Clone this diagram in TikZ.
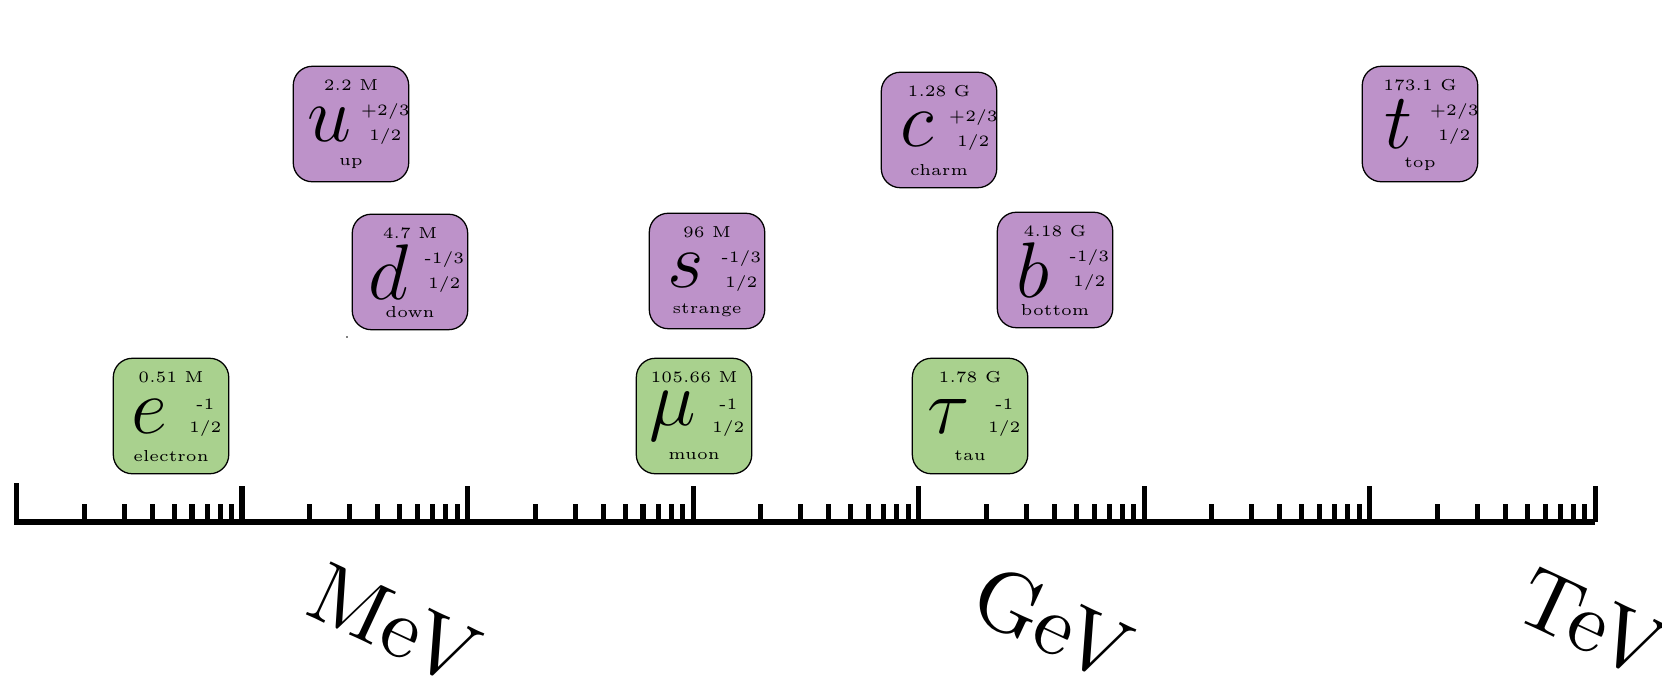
\documentclass[tikz,border=0pt]{standalone}
\usepackage{tikz}
\usetikzlibrary{calc, positioning}

\definecolor{quarkcol}{RGB}{189,146,201}
\definecolor{leptoncol}{RGB}{169,209,142}

\tikzset{
    particle/.style={draw, rounded corners=6pt, minimum size=1.28cm, inner sep=0pt},
    quark/.style={particle, fill=quarkcol},
    lepton/.style={particle, fill=leptoncol},
    info/.style={font=\tiny, inner sep=0pt},
    symb/.style={font=\Huge, inner sep=0pt},
    unitlabel/.style={font=\normalsize, rotate=-25, scale=2.7, transform shape},
    axisline/.style={line width=1.6pt},
}

% \particle{name}{style}{position}{symbol}{mass}{charge}{spin}
\newcommand{\particle}[7]{%
    \node[#2] (#1) at (#3) {};
    \node[symb] (#1-sym) at ($(#1.center)+(-0.24,0)$) {$#4$};
    \node[info] (#1-mass) at ($(#1.center)+(0,0.43)$) {#5};
    \node[info] (#1-charge) at ($(#1.center)+(0.38,0.135)$) {#6};
    \node[info] (#1-spin) at ($(#1.center)+(0.38,-0.135)$) {#7};
    \node[info] (#1-name) at ($(#1.center)+(0,-0.44)$) {#1};
}

\begin{document}
\begin{tikzpicture}
    \useasboundingbox (-0.183,-1.718) rectangle (18.242,5.787);

    % Thang logarit: mỗi bậc 10 dài 2.5cm
    \draw[axisline] (0,0.43) -- (0,0) -- (17.5,0);
    \foreach \d in {1,...,7}
        \draw[axisline] (2.5*\d,0) -- ++(0,0.4);
    \foreach \d in {0,...,6}
        \foreach \k in {2,...,9}
            \draw[axisline] ({2.5*\d+2.5*log10(\k)},0) -- ++(0,0.2);

    % Đơn vị
    \node[unitlabel] (mev) at (4.19,-1.14) {MeV};
    \node[unitlabel] (gev) at (11.48,-1.12) {GeV};
    \node[unitlabel] (tev) at (17.46,-1.12) {TeV};

    % Quark
    \particle{up}{quark}{3.708,4.412}{u}{2.2 M}{+2/3}{1/2}
    \particle{charm}{quark}{10.227,4.346}{c}{1.28 G}{+2/3}{1/2}
    \particle{top}{quark}{15.559,4.412}{t}{173.1 G}{+2/3}{1/2}
    \particle{down}{quark}{4.362,2.772}{d}{4.7 M}{-1/3}{1/2}
    \particle{strange}{quark}{7.655,2.783}{s}{96 M}{-1/3}{1/2}
    \particle{bottom}{quark}{11.513,2.794}{b}{4.18 G}{-1/3}{1/2}

    % Lepton
    \particle{electron}{lepton}{1.713,1.175}{e}{0.51 M}{-1}{1/2}
    \particle{muon}{lepton}{7.511,1.175}{\mu}{105.66 M}{-1}{1/2}
    \particle{tau}{lepton}{10.571,1.175}{\tau}{1.78 G}{-1}{1/2}

    \fill (3.664,2.051) circle (0.3pt);
\end{tikzpicture}
\end{document}
